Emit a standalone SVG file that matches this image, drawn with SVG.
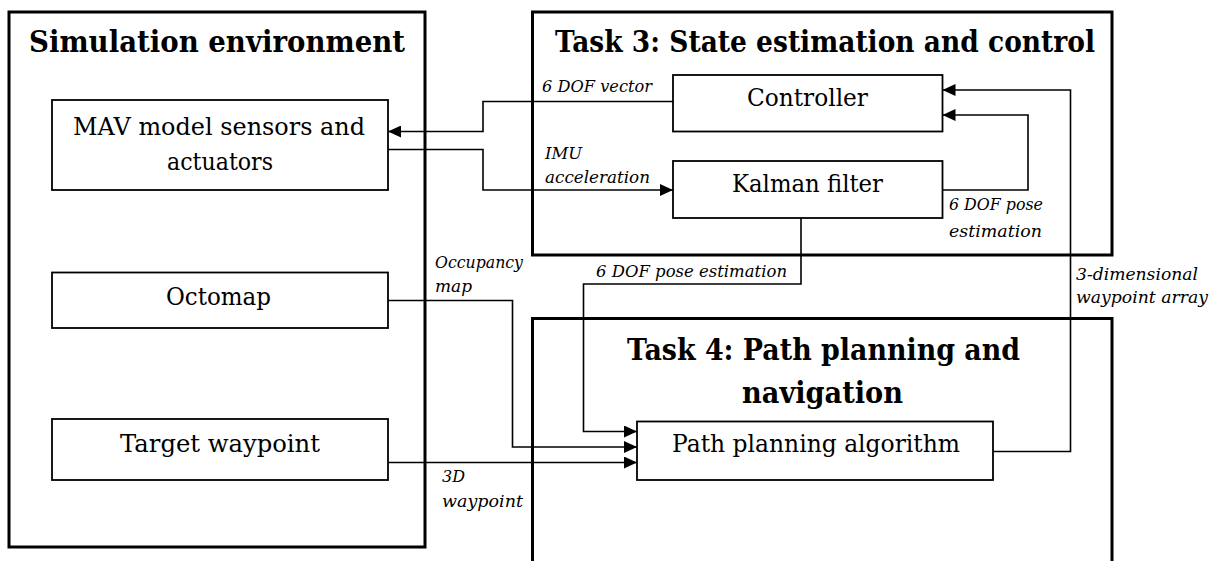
<svg xmlns="http://www.w3.org/2000/svg" width="1217" height="561" viewBox="0 0 1217 561">
  <style>
    .frame { fill: none; stroke: #000; stroke-width: 3; }
    .box { fill: #fff; stroke: #000; stroke-width: 1.8; }
    .title { font-family: "DejaVu Serif", "Liberation Serif", serif; font-weight: bold; font-size: 30px; fill: #000; }
    .label { font-family: "DejaVu Serif", "Liberation Serif", serif; font-size: 24px; fill: #000; }
    .note { font-family: "DejaVu Serif", "Liberation Serif", serif; font-style: italic; font-size: 17px; fill: #000; }
    .wire { fill: none; stroke: #000; stroke-width: 1.6; }
  </style>
  <defs>
    <marker id="arrow" markerUnits="userSpaceOnUse" markerWidth="13" markerHeight="12" refX="13" refY="6" orient="auto">
      <path d="M0,0 L13,6 L0,12 z" fill="#000"/>
    </marker>
  </defs>

  <rect width="1217" height="561" fill="#fff"/>

  <!-- Container frames -->
  <g id="simulation-environment">
    <rect class="frame" x="9" y="12" width="416" height="535"/>
    <text class="title" x="29" y="52" textLength="376" lengthAdjust="spacingAndGlyphs">Simulation environment</text>
  </g>
  <g id="task3">
    <rect class="frame" x="532.5" y="12" width="579.5" height="243"/>
    <text class="title" x="555" y="52" textLength="540" lengthAdjust="spacingAndGlyphs">Task 3: State estimation and control</text>
  </g>
  <g id="task4">
    <rect class="frame" x="532.5" y="318.5" width="579.5" height="270"/>
    <text class="title" x="627" y="360" textLength="393" lengthAdjust="spacingAndGlyphs">Task 4: Path planning and</text>
    <text class="title" x="742" y="403" textLength="161" lengthAdjust="spacingAndGlyphs">navigation</text>
  </g>

  <!-- Nodes -->
  <g id="mav-model">
    <rect class="box" x="52" y="100" width="336" height="90"/>
    <text class="label" x="73" y="135" textLength="292" lengthAdjust="spacingAndGlyphs">MAV model sensors and</text>
    <text class="label" x="167" y="170" textLength="106" lengthAdjust="spacingAndGlyphs">actuators</text>
  </g>
  <g id="octomap">
    <rect class="box" x="52" y="272.5" width="336" height="55.5"/>
    <text class="label" x="166" y="305" textLength="105" lengthAdjust="spacingAndGlyphs">Octomap</text>
  </g>
  <g id="target-waypoint">
    <rect class="box" x="52" y="419" width="336" height="61"/>
    <text class="label" x="120" y="452" textLength="200" lengthAdjust="spacingAndGlyphs">Target waypoint</text>
  </g>
  <g id="controller">
    <rect class="box" x="673" y="75" width="269.5" height="56.5"/>
    <text class="label" x="747" y="106" textLength="121" lengthAdjust="spacingAndGlyphs">Controller</text>
  </g>
  <g id="kalman-filter">
    <rect class="box" x="673" y="161" width="269.5" height="57"/>
    <text class="label" x="732" y="192" textLength="151" lengthAdjust="spacingAndGlyphs">Kalman filter</text>
  </g>
  <g id="path-planning">
    <rect class="box" x="637" y="421.5" width="356" height="58.5"/>
    <text class="label" x="672" y="452" textLength="288" lengthAdjust="spacingAndGlyphs">Path planning algorithm</text>
  </g>

  <!-- Connectors -->
  <g id="connectors">
    <path class="wire" d="M673,101.5 H483 V131.5 H388" marker-end="url(#arrow)"/>
    <path class="wire" d="M388,149.5 H483 V190 H673" marker-end="url(#arrow)"/>
    <path class="wire" d="M942.5,190 H1028 V115 H942.5" marker-end="url(#arrow)"/>
    <path class="wire" d="M993,451.5 H1070.5 V90 H942.5" marker-end="url(#arrow)"/>
    <path class="wire" d="M801,218 V284 H583.5 V431.5 H637" marker-end="url(#arrow)"/>
    <path class="wire" d="M388,300.5 H512.5 V447 H637" marker-end="url(#arrow)"/>
    <path class="wire" d="M388,462.5 H637" marker-end="url(#arrow)"/>

    <text class="note" x="542" y="92" textLength="110" lengthAdjust="spacingAndGlyphs">6 DOF vector</text>
    <text class="note" x="545" y="159" textLength="37" lengthAdjust="spacingAndGlyphs">IMU</text>
    <text class="note" x="545" y="183" textLength="105" lengthAdjust="spacingAndGlyphs">acceleration</text>
    <text class="note" x="949" y="210" textLength="94" lengthAdjust="spacingAndGlyphs">6 DOF pose</text>
    <text class="note" x="949" y="237" textLength="93" lengthAdjust="spacingAndGlyphs">estimation</text>
    <text class="note" x="435" y="268" textLength="88" lengthAdjust="spacingAndGlyphs">Occupancy</text>
    <text class="note" x="435" y="292" textLength="37" lengthAdjust="spacingAndGlyphs">map</text>
    <text class="note" x="596" y="277" textLength="191" lengthAdjust="spacingAndGlyphs">6 DOF pose estimation</text>
    <text class="note" x="1076" y="280" textLength="122" lengthAdjust="spacingAndGlyphs">3-dimensional</text>
    <text class="note" x="1076" y="303" textLength="132" lengthAdjust="spacingAndGlyphs">waypoint array</text>
    <text class="note" x="442" y="482" textLength="23" lengthAdjust="spacingAndGlyphs">3D</text>
    <text class="note" x="442" y="507" textLength="81" lengthAdjust="spacingAndGlyphs">waypoint</text>
  </g>
</svg>
